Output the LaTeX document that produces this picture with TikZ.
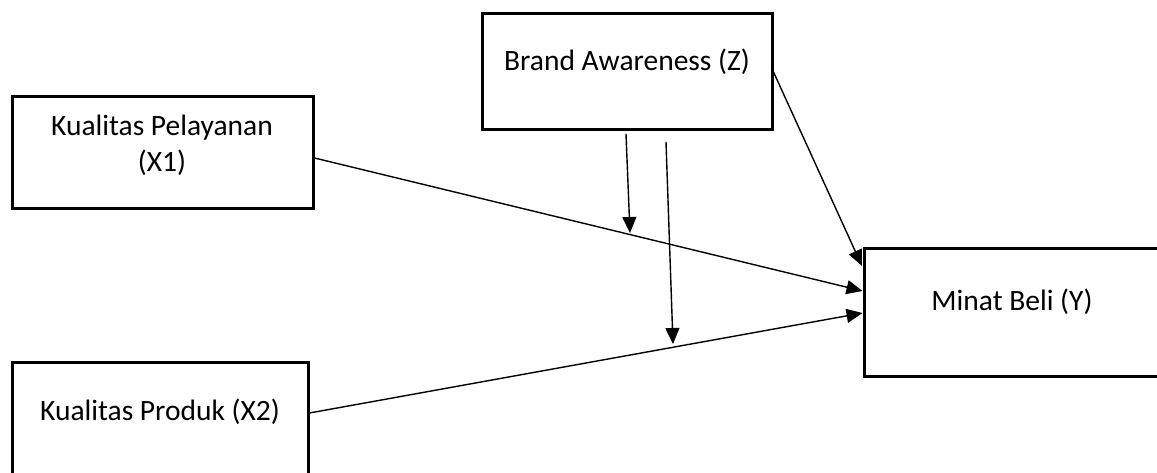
\documentclass[tikz,border=0pt]{standalone}
\usepackage{fontspec}
\setmainfont{Carlito}
\usetikzlibrary{arrows.meta}
\begin{document}
\begin{tikzpicture}[x=1pt,y=-1pt,
  box/.style={draw, line width=3pt, minimum width=#1, inner sep=0pt},
  lbl/.style={font=\fontsize{29.5}{36}\selectfont, align=center, inner sep=0pt},
  conn/.style={line width=1.4pt, -{Triangle[length=16pt,width=14pt]}}]
\useasboundingbox (0,0) rectangle (1157,473);
\clip (0,0) rectangle (1157,473);
\fill[white] (0,0) rectangle (1157,473);
% boxes
\node[box=290pt, minimum height=116pt] (z) at (627,72) {};
\node[box=301pt, minimum height=112pt] (x1) at (162.5,153) {};
\node[box=296pt, minimum height=120pt] (x2) at (160,422) {};
\node[box=340pt, minimum height=127pt] (y) at (1034,312.5) {};
% labels
\node[lbl] (zt) at (627,62) {Brand Awareness (Z)};
\node[lbl] (x1t) at (162,145) {Kualitas Pelayanan\\(X1)};
\node[lbl] (x2t) at (160,412) {Kualitas Produk (X2)};
\node[lbl] (yt) at (1012,302) {Minat Beli (Y)};
% connector end points
\coordinate (x1o) at (x1.east |- 0,158);
\coordinate (x2o) at (x2.east |- 0,413);
\coordinate (yi1) at (y.west |- 0,291);
\coordinate (yi2) at (y.west |- 0,313);
\coordinate (zo) at (z.east |- 0,72);
\coordinate (yi0) at (862,266);
\coordinate (v1s) at (626,134);
\coordinate (v1e) at (630,233);
\coordinate (v2s) at (666,142);
\coordinate (v2e) at (673,344);
% connectors
\draw[conn] (x1o) -- (yi1);
\draw[conn] (x2o) -- (yi2);
\draw[conn] (zo) -- (yi0);
\draw[conn] (v1s) -- (v1e);
\draw[conn] (v2s) -- (v2e);
\end{tikzpicture}
\end{document}
